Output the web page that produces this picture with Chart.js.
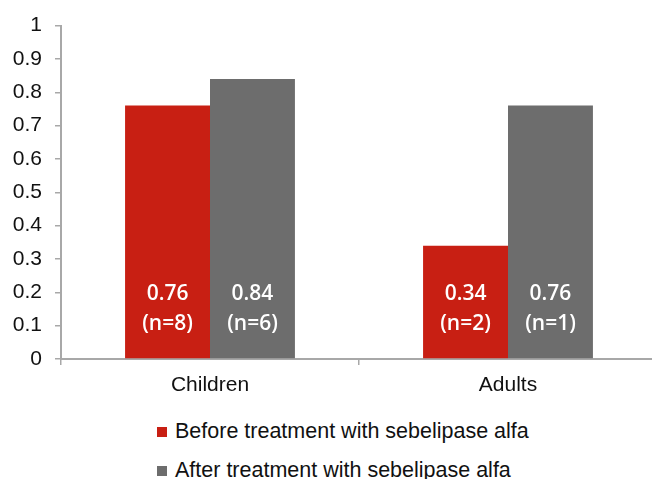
<!DOCTYPE html>
<html>
<head>
<meta charset="utf-8">
<script src="https://cdn.jsdelivr.net/npm/chart.js@4.4.0/dist/chart.umd.min.js"></script>
<style>
  html,body{margin:0;padding:0;background:#fff;overflow:hidden;width:652px;height:479px;}
  #wrap{position:absolute;left:0;top:0;width:660px;height:400px;}
  #legend{position:absolute;left:157px;top:421px;font-family:Arial,"Liberation Sans",sans-serif;font-size:21.5px;color:#111;}
  #legend div{height:39px;line-height:20px;white-space:nowrap;}
  #legend span{display:inline-block;width:10px;height:10px;margin-right:8px;vertical-align:1px;}
</style>
</head>
<body>
<div id="wrap"><canvas id="c"></canvas></div>
<div id="legend"></div>
<script>
/* ---- data ---- */
const groups=['Children','Adults'];
const seriesNames=['Before treatment with sebelipase alfa','After treatment with sebelipase alfa'];
const before=[0.76,0.34];
const after=[0.84,0.76];
const beforeN=[8,2];
const afterN=[6,1];
const yTicks=[0,0.1,0.2,0.3,0.4,0.5,0.6,0.7,0.8,0.9,1];

const RED='#c81f13', GRAY='#6d6d6d', AX='#a8a8a8';
const FONT='Arial, "Liberation Sans", sans-serif';

// labels inside the bars
const inBar={id:'inBar',afterDatasetsDraw(ch){
  const ctx=ch.ctx, y=ch.scales.y;
  const ns=[beforeN,afterN];
  ctx.save();
  ctx.fillStyle='#fff'; ctx.textAlign='center'; ctx.textBaseline='middle';
  ctx.font='600 21px "Open Sans", Lato, sans-serif';
  ch.data.datasets.forEach((ds,i)=>{
    ch.getDatasetMeta(i).data.forEach((b,j)=>{
      ctx.fillText(ds.data[j].toFixed(2),b.x,y.getPixelForValue(0.195));
      ctx.fillText('(n='+ns[i][j]+')',b.x,y.getPixelForValue(0.105));
    });
  });
  ctx.restore();
}};

new Chart(document.getElementById('c'),{
  type:'bar',
  data:{labels:groups,datasets:[
    {label:seriesNames[0],data:before,backgroundColor:RED},
    {label:seriesNames[1],data:after,backgroundColor:GRAY}
  ]},
  options:{
    responsive:true,maintainAspectRatio:false,animation:false,
    layout:{padding:{top:14,right:3,left:0,bottom:0}},
    datasets:{bar:{categoryPercentage:0.57,barPercentage:1}},
    plugins:{legend:{display:false},tooltip:{enabled:false}},
    scales:{
      x:{
        grid:{display:true,drawOnChartArea:false,offset:true,tickLength:6,color:AX,lineWidth:1.5},
        border:{color:AX,width:2},
        ticks:{color:'#111',font:{family:FONT,size:21},padding:8},
        afterFit(s){s.height=41;}
      },
      y:{
        min:0,max:1,
        afterBuildTicks(s){s.ticks=yTicks.map(v=>({value:v}));},
        grid:{display:true,drawOnChartArea:false,tickLength:6,color:AX,lineWidth:1.5},
        border:{color:AX,width:2},
        ticks:{color:'#111',font:{family:FONT,size:21},padding:13,callback:v=>String(v)},
        afterFit(s){s.width=61;}
      }
    }
  },
  plugins:[inBar]
});

// legend, one item per line
const lg=document.getElementById('legend');
[RED,GRAY].forEach((c,i)=>{
  const d=document.createElement('div');
  d.innerHTML='<span style="background:'+c+'"></span>'+seriesNames[i];
  lg.appendChild(d);
});
</script>
</body>
</html>
